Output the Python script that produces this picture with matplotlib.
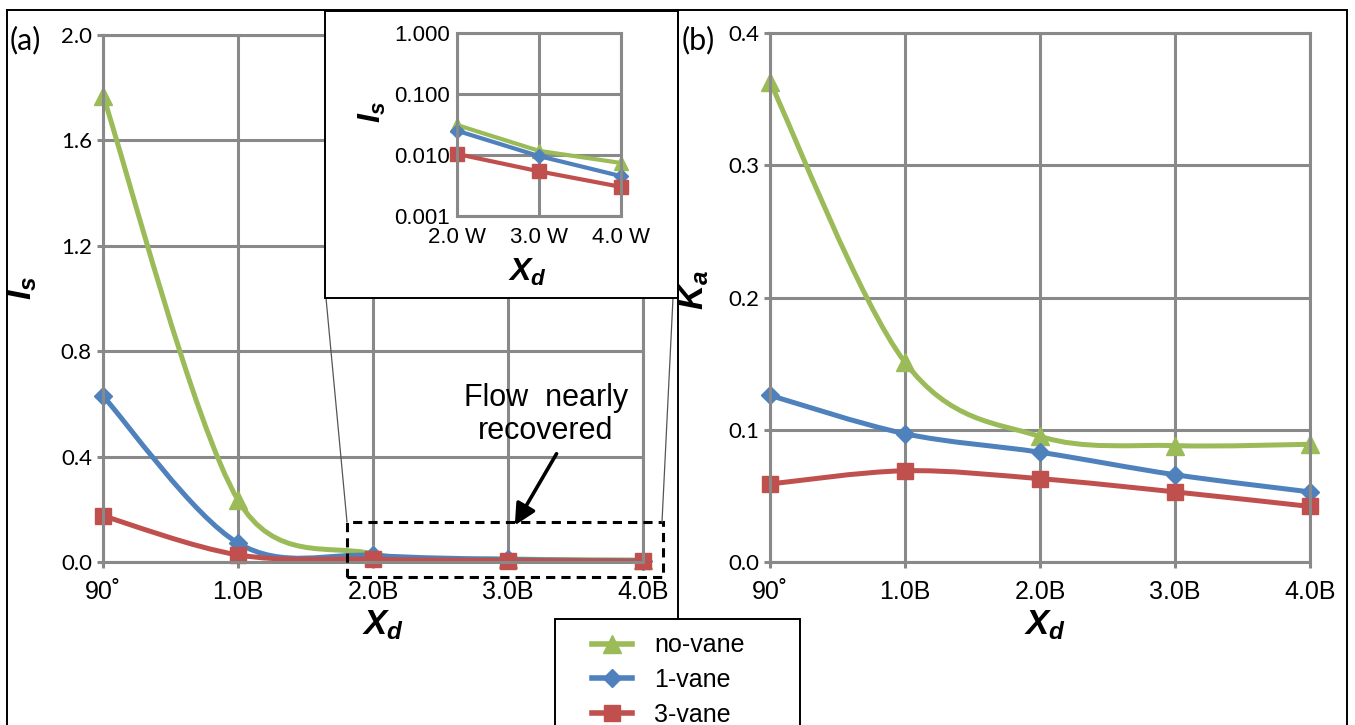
import numpy as np
import matplotlib
matplotlib.use("Agg")
import matplotlib.pyplot as plt
from matplotlib.path import Path
from matplotlib.patches import PathPatch, Rectangle
from matplotlib.lines import Line2D

plt.rcParams['font.family'] = ['Liberation Sans', 'DejaVu Sans']
plt.rcParams['mathtext.fontset'] = 'custom'
plt.rcParams['mathtext.it'] = 'Liberation Sans:italic:bold'
plt.rcParams['mathtext.rm'] = 'Liberation Sans:bold'

# data
positions = ["90˚", "1.0B", "2.0B", "3.0B", "4.0B"]
inset_positions = ["2.0 W", "3.0 W", "4.0 W"]
series = ["no-vane", "1-vane", "3-vane"]

is_novane = [1.77, 0.235, 0.031, 0.0117, 0.0074]
is_1vane = [0.63, 0.072, 0.025, 0.0096, 0.0045]
is_3vane = [0.175, 0.027, 0.0104, 0.0054, 0.0030]

ka_novane = [0.363, 0.151, 0.095, 0.088, 0.089]
ka_1vane = [0.126, 0.097, 0.083, 0.066, 0.053]
ka_3vane = [0.059, 0.069, 0.063, 0.053, 0.042]

colors = ['#9BBB59', '#4F81BD', '#C0504D']
markers = ['^', 'D', 's']
msizes = [13, 9.5, 12]
GRID = '#898989'

W, H = 1355, 725


def px(x, y):
    return x / W, 1 - y / H


def smooth_path(ax, xs, ys):
    # excel-style smoothed line, built in screen space so handles can be capped
    pts = ax.transData.transform(np.column_stack([xs, ys]).astype(float))
    n = len(pts)
    verts = [pts[0]]
    codes = [Path.MOVETO]

    def handle(a, b, seg):
        h = (b - a) / 6
        lim = np.hypot(*seg) / 2
        size = np.hypot(*h)
        if size > lim and size > 0:
            h = h * lim / size
        return h

    for i in range(n - 1):
        p0 = pts[max(i - 1, 0)]
        p1 = pts[i]
        p2 = pts[i + 1]
        p3 = pts[min(i + 2, n - 1)]
        seg = p2 - p1
        verts += [p1 + handle(p0, p2, seg), p2 - handle(p1, p3, seg), p2]
        codes += [Path.CURVE4] * 3
    verts = ax.transData.inverted().transform(np.array(verts))
    return Path(verts, codes)


def style_axes(ax, labels):
    ax.set_axisbelow(True)
    ax.grid(True, color=GRID, lw=2.2)
    for sp in ax.spines.values():
        sp.set_color(GRID)
        sp.set_linewidth(2.2)
    ax.tick_params(axis='both', color=GRID, width=2.2, length=4)
    ax.tick_params(axis='x', labelsize=18, pad=9)
    ax.tick_params(axis='y', labelsize=16, pad=4, labelfontfamily='Lato')
    ax.set_xticks(range(len(labels)))
    ax.set_xticklabels(labels)


def draw_series(ax, ys_list, smooth=True, lw=3.6, scale=1.0):
    x = np.arange(len(ys_list[0]))
    for ys, c, m, ms in zip(ys_list, colors, markers, msizes):
        if smooth:
            ax.add_patch(PathPatch(smooth_path(ax, x, ys), facecolor='none', edgecolor=c,
                                   lw=lw, capstyle='round', joinstyle='round'))
        else:
            ax.plot(x, ys, color=c, lw=lw, solid_capstyle='round')
        ax.plot(x, ys, linestyle='none', marker=m, ms=ms * scale, color=c,
                markeredgecolor=c, clip_on=False)


fig = plt.figure(figsize=(W / 100, H / 100), dpi=100)

# panel (a)
l, b = px(103, 562)
r, t = px(643, 35)
ax_a = fig.add_axes([l, b, r - l, t - b])
style_axes(ax_a, positions)
ax_a.set_xlim(0, 4)
ax_a.set_ylim(0, 2.0)
ax_a.set_yticks(np.arange(0, 2.01, 0.4))
ax_a.yaxis.set_major_formatter(matplotlib.ticker.FormatStrFormatter('%.1f'))
draw_series(ax_a, [is_novane, is_1vane, is_3vane])

# zoom box and note
ax_a.add_patch(Rectangle((1.807, -0.057), 4.148 - 1.807, 0.152 + 0.057, fill=False,
                         ec='black', lw=2.2, ls=(0, (3, 2)), clip_on=False, zorder=5))
ax_a.annotate('', xy=(3.04, 0.13), xytext=(3.37, 0.42),
              arrowprops=dict(arrowstyle='-|>', lw=2.6, color='black', mutation_scale=32))
ax_a.text(3.28, 0.56, "Flow  nearly\nrecovered", fontsize=22, ha='center', va='center',
          linespacing=1.15, zorder=6)

# panel (b)
l, b = px(770, 562)
r, t = px(1310, 33)
ax_b = fig.add_axes([l, b, r - l, t - b])
style_axes(ax_b, positions)
ax_b.set_xlim(0, 4)
ax_b.set_ylim(0, 0.4)
ax_b.set_yticks(np.arange(0, 0.41, 0.1))
ax_b.yaxis.set_major_formatter(matplotlib.ticker.FormatStrFormatter('%.1f'))
draw_series(ax_b, [ka_novane, ka_1vane, ka_3vane])

# inset box and its connectors
x0, y0 = px(325, 298)
x1, y1 = px(678, 11)
fig.add_artist(Rectangle((x0, y0), x1 - x0, y1 - y0, transform=fig.transFigure,
                         facecolor='white', edgecolor='black', lw=1.4, zorder=2))
for (xa, ya), (xb, yb) in [((347, 522), (326, 298)), ((662, 522), (673, 298))]:
    p1, p2 = px(xa, ya), px(xb, yb)
    fig.add_artist(Line2D([p1[0], p2[0]], [p1[1], p2[1]], transform=fig.transFigure,
                          color='#555555', lw=0.9, zorder=1))

l, b = px(457, 216)
r, t = px(621, 33)
ax_in = fig.add_axes([l, b, r - l, t - b], zorder=3)
style_axes(ax_in, inset_positions)
ax_in.set_yscale('log')
ax_in.set_xlim(0, 2)
ax_in.set_ylim(0.001, 1.0)
ax_in.set_yticks([0.001, 0.01, 0.1, 1.0])
ax_in.yaxis.set_minor_locator(matplotlib.ticker.NullLocator())
ax_in.yaxis.set_major_formatter(matplotlib.ticker.FormatStrFormatter('%.3f'))
ax_in.tick_params(axis='y', labelsize=16, labelfontfamily='Liberation Sans', pad=5, length=0)
ax_in.tick_params(axis='x', labelsize=16, pad=8, length=0)
draw_series(ax_in, [is_novane[2:], is_1vane[2:], is_3vane[2:]], smooth=False, lw=3.0, scale=0.8)

# axis titles
fig.text(*px(22, 288), r"$I_s$", fontsize=25, rotation=90, ha='center', va='center')
fig.text(*px(383, 625), r"$X_d$", fontsize=25, ha='center', va='center')
fig.text(*px(694, 290), r"$K_a$", fontsize=25, rotation=90, ha='center', va='center')
fig.text(*px(1045, 625), r"$X_d$", fontsize=25, ha='center', va='center')
fig.text(*px(372, 112), r"$I_s$", fontsize=23, rotation=90, ha='center', va='center', zorder=4)
fig.text(*px(527, 272), r"$X_d$", fontsize=23, ha='center', va='center', zorder=4)

# panel labels
fig.text(*px(10, 40), "(a)", fontsize=22, family='Lato', va='center', ha='left')
fig.text(*px(682, 40), "(b)", fontsize=22, family='Lato', va='center', ha='left')

# panel frames
frame_lines = [((7, 10), (7, 730)), ((7, 10), (1347, 10)), ((678, 10), (678, 619)),
               ((1347, 10), (1347, 730))]
for pa, pb in frame_lines:
    p1, p2 = px(*pa), px(*pb)
    fig.add_artist(Line2D([p1[0], p2[0]], [p1[1], p2[1]], transform=fig.transFigure,
                          color='black', lw=1.4, zorder=4))

# legend
x0, y0 = px(555, 730)
x1, y1 = px(800, 619)
fig.add_artist(Rectangle((x0, y0), x1 - x0, y1 - y0, transform=fig.transFigure,
                         facecolor='white', edgecolor='black', lw=1.4, zorder=5))
handles = [Line2D([], [], color=c, lw=4.0, marker=m, ms=ms) for c, m, ms in zip(colors, markers, msizes)]
leg = fig.legend(handles, series, loc='upper left', bbox_to_anchor=px(574, 616),
                 frameon=False, fontsize=18, handlelength=1.6, handletextpad=0.9,
                 labelspacing=0.42, borderpad=0.2)
leg.set_zorder(6)

fig.savefig("out.png", dpi=100)
